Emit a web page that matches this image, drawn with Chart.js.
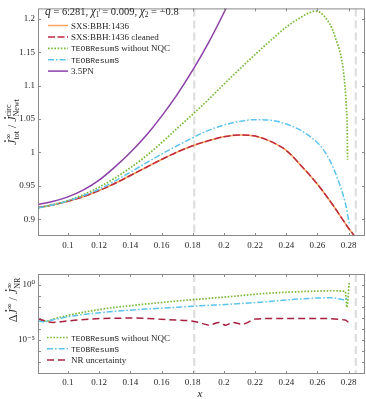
<!DOCTYPE html>
<html><head><meta charset="utf-8">
<script src="https://cdn.jsdelivr.net/npm/chart.js@4/dist/chart.umd.min.js"></script>
<style>
html,body{margin:0;padding:0;background:#fff;}
#wrap{position:relative;width:366px;height:399px;overflow:hidden;}
canvas{position:absolute;left:0;}
#top{top:0;width:366px;height:258px;}
#bot{top:258px;width:366px;height:141px;}
</style></head><body>
<div id="wrap"><canvas id="top" width="366" height="258"></canvas><canvas id="bot" width="366" height="141"></canvas></div>
<script>
// ---------- data ----------
const xTickValues = [0.1,0.12,0.14,0.16,0.18,0.2,0.22,0.24,0.26,0.28];
const xTickLabels = ['0.1','0.12','0.14','0.16','0.18','0.2','0.22','0.24','0.26','0.28'];
const topYTickValues = [0.9,0.95,1,1.05,1.1,1.15,1.2];
const topYTickLabels = ['0.9','0.95','1','1.05','1.1','1.15','1.2'];
const botYTickValues = [1e-8,1e-7,1e-6,1e-5,1e-4,1e-3,1e-2,1e-1,1];
const botYTickLabels = ['','','','10\u207B\u2075','','','','','10\u2070'];
const markerX = [0.181, 0.2846];

const sxsX = [0.0808,0.09,0.10,0.11,0.12,0.13,0.14,0.15,0.16,0.17,0.18,0.19,0.20,0.21,0.22,0.23,0.24,0.25,0.26,0.27,0.28,0.2838];
const sxsY = [0.9176,0.9215,0.927,0.934,0.943,0.9535,0.9655,0.9775,0.9895,1.0005,1.010,1.0175,1.0235,1.0262,1.0245,1.0165,1.003,0.979,0.9525,0.921,0.8865,0.875];
const cleanedX = [0.0808,0.09,0.10,0.11,0.12,0.13,0.14,0.15,0.16,0.17,0.18,0.19,0.20,0.21,0.22,0.23,0.24,0.25,0.26,0.27,0.28,0.2838];
const cleanedY = [0.9176,0.9215,0.927,0.934,0.943,0.9535,0.9655,0.9775,0.9895,1.0005,1.010,1.0175,1.0235,1.0262,1.0245,1.0165,1.003,0.979,0.9525,0.921,0.8865,0.875];
const nqcX = [0.0808,0.09,0.10,0.11,0.12,0.13,0.14,0.15,0.16,0.17,0.18,0.19,0.20,0.21,0.22,0.23,0.24,0.25,0.255,0.258,0.262,0.266,0.2693,0.272,0.2745,0.2765,0.2778,0.2786,0.2791,0.2793];
const nqcY = [0.9172,0.9215,0.928,0.937,0.948,0.9615,0.977,0.9945,1.0145,1.036,1.057,1.079,1.102,1.1245,1.1465,1.1675,1.1875,1.203,1.209,1.2114,1.209,1.199,1.186,1.168,1.15,1.125,1.095,1.065,1.035,0.989];
const teobX = [0.0808,0.09,0.10,0.11,0.12,0.13,0.14,0.15,0.16,0.17,0.18,0.19,0.20,0.21,0.22,0.23,0.24,0.25,0.26,0.265,0.27,0.275,0.278,0.2805];
const teobY = [0.917,0.9215,0.9275,0.9355,0.945,0.957,0.9705,0.984,0.9975,1.010,1.022,1.033,1.041,1.0465,1.049,1.048,1.0425,1.032,1.0145,1.0,0.978,0.947,0.923,0.893];
const pnX = [0.0808,0.09,0.10,0.11,0.12,0.13,0.14,0.15,0.16,0.17,0.18,0.19,0.20,0.205];
const pnY = [0.9222,0.9265,0.9335,0.944,0.9585,0.978,1.0,1.025,1.054,1.0865,1.123,1.1635,1.209,1.2335];

const errNqcX = [0.0808,0.0838,0.086,0.09,0.1009,0.11,0.122,0.1434,0.1646,0.1849,0.2055,0.2268,0.248,0.2693,0.2778,0.2789,0.2804];
const errNqcY = [0.000794,0.000537,0.000501,0.000708,0.00174,0.00316,0.00617,0.0141,0.0282,0.0501,0.0871,0.162,0.229,0.282,0.251,0.00871,1.58];
const errTeobX = [0.0808,0.0838,0.09,0.1009,0.122,0.1434,0.1646,0.1849,0.2055,0.2268,0.248,0.2693,0.2778,0.2794];
const errTeobY = [0.000501,0.000437,0.000631,0.00132,0.00302,0.00537,0.00813,0.0123,0.0174,0.0282,0.0501,0.0661,0.0437,0.1];
const nrX = [0.0808,0.0902,0.1009,0.122,0.1434,0.1646,0.1774,0.1838,0.1906,0.1968,0.2012,0.2055,0.2118,0.2204,0.2373,0.2587,0.2778,0.28];
const nrY = [0.000794,0.00038,0.000537,0.000871,0.000933,0.000661,0.000537,0.00038,0.000214,0.00038,0.000214,0.00038,0.000263,0.000759,0.000871,0.000871,0.000617,0.00038];

// ---------- helpers ----------
const SERIF = "'Liberation Serif', 'DejaVu Serif', serif";
const MONO = "'Liberation Mono', 'DejaVu Sans Mono', monospace";
const pts = (xs, ys) => xs.map((x, i) => ({x: x, y: ys[i]}));

function segWidth(ctx, s) {
  ctx.font = s.font;
  if (s.sup !== undefined || s.sub !== undefined) {
    return Math.max(ctx.measureText(s.sup || '').width, ctx.measureText(s.sub || '').width);
  }
  return ctx.measureText(s.t).width;
}
function drawRich(ctx, segs, x, y, align) {
  const total = segs.reduce((a, s) => a + segWidth(ctx, s), 0);
  let cx = align === 'center' ? x - total / 2 : x;
  ctx.textAlign = 'left';
  ctx.textBaseline = 'alphabetic';
  for (const s of segs) {
    const w = segWidth(ctx, s);
    ctx.font = s.font;
    if (s.sup !== undefined || s.sub !== undefined) {
      if (s.sup) ctx.fillText(s.sup, cx, y - (s.up || 4));
      if (s.sub) ctx.fillText(s.sub, cx, y + (s.down || 3));
    } else {
      ctx.fillText(s.t, cx, y + (s.dy || 0));
      if (s.dot) {
        ctx.beginPath();
        ctx.arc(cx + w * 0.72, y - s.dot, 0.9, 0, 2 * Math.PI);
        ctx.fill();
      }
    }
    cx += w;
  }
}

const framePlugin = {
  id: 'frame',
  beforeDatasetsDraw(chart) {
    const {ctx, chartArea: a, scales} = chart;
    ctx.save();
    ctx.beginPath(); ctx.rect(a.left, a.top, a.right - a.left, a.bottom - a.top); ctx.clip();
    ctx.strokeStyle = '#dedede'; ctx.lineWidth = 2.2; ctx.setLineDash([8, 4]);
    for (const v of markerX) {
      const p = scales.x.getPixelForValue(v);
      ctx.beginPath(); ctx.moveTo(p, a.top); ctx.lineTo(p, a.bottom); ctx.stroke();
    }
    ctx.restore();
  },
  afterDatasetsDraw(chart) {
    const {ctx, chartArea: a, scales} = chart;
    ctx.save();
    ctx.strokeStyle = '#8a8a8a'; ctx.lineWidth = 1;
    ctx.strokeRect(a.left + 0.5, a.top + 0.5, a.right - a.left - 1, a.bottom - a.top - 1);
    const L = 3;
    ctx.beginPath();
    for (const t of scales.x.ticks) {
      const p = Math.round(scales.x.getPixelForValue(t.value)) + 0.5;
      ctx.moveTo(p, a.bottom); ctx.lineTo(p, a.bottom - L);
      ctx.moveTo(p, a.top); ctx.lineTo(p, a.top + L);
    }
    for (const t of scales.y.ticks) {
      const p = Math.round(scales.y.getPixelForValue(t.value)) + 0.5;
      ctx.moveTo(a.left, p); ctx.lineTo(a.left + L, p);
      ctx.moveTo(a.right, p); ctx.lineTo(a.right - L, p);
    }
    ctx.stroke();
    ctx.restore();
  },
  afterDraw(chart, args, opts) {
    const ctx = chart.ctx;
    ctx.save();
    ctx.fillStyle = '#262626';
    if (opts.header) drawRich(ctx, opts.header, opts.hx, opts.hy, 'left');
    opts.order.forEach((di, k) => {
      const ds = chart.data.datasets[di];
      const y = opts.ly + k * opts.ldy;
      ctx.save();
      ctx.strokeStyle = ds.borderColor; ctx.lineWidth = ds.borderWidth;
      ctx.setLineDash(ds.borderDash || []);
      ctx.beginPath(); ctx.moveTo(opts.lx0, y); ctx.lineTo(opts.lx1, y); ctx.stroke();
      ctx.restore();
      const lab = ds.label;
      const segs = [];
      if (lab.startsWith('TEOBResumS')) {
        segs.push({t: 'TEOBResumS', font: '8px ' + MONO});
        if (lab.length > 10) segs.push({t: lab.slice(10), font: '9px ' + SERIF});
      } else segs.push({t: lab, font: '9px ' + SERIF});
      drawRich(ctx, segs, opts.tx, y + 3, 'left');
    });
    ctx.translate(opts.yx, opts.yy);
    ctx.rotate(-Math.PI / 2);
    drawRich(ctx, opts.ytitle, 0, 0, 'center');
    ctx.setTransform(1, 0, 0, 1, 0, 0);
    if (opts.xtitle) {
      ctx.font = 'italic 11px ' + SERIF;
      ctx.textAlign = 'center'; ctx.textBaseline = 'middle';
      ctx.fillText(opts.xtitle, opts.xtx, opts.xty);
    }
    ctx.restore();
  }
};

const tickFont = {family: SERIF, size: 9};
function xScale(height, pad) {
  return {
    type: 'linear', min: 0.0808, max: 0.2905,
    grid: {display: false, drawTicks: false}, border: {display: false},
    afterBuildTicks: s => { s.ticks = xTickValues.map(v => ({value: v})); },
    afterFit: s => { s.height = height; },
    ticks: {font: tickFont, color: '#262626', padding: pad, maxRotation: 0, autoSkip: false,
      callback: v => { const i = xTickValues.findIndex(t => Math.abs(t - v) < 1e-9); return i >= 0 ? xTickLabels[i] : ''; }}
  };
}

const colOrange = '#f7a55c', colRed = '#bf2a40', colGreen = '#79b936', colBlue = '#5cc3ef', colPurple = '#8c3fa8';
const italic12 = 'italic 12px ' + SERIF, small8 = '8px ' + SERIF;
const hItal = 'italic 11.5px ' + SERIF, hNum = '10.5px ' + SERIF, hSub = '7.5px ' + SERIF;

new Chart(document.getElementById('top'), {
  type: 'line',
  data: {datasets: [
    {label: 'SXS:BBH:1436', data: pts(sxsX, sxsY), borderColor: colOrange, borderWidth: 1.5, order: 5},
    {label: 'SXS:BBH:1436 cleaned', data: pts(cleanedX, cleanedY), borderColor: colRed, borderWidth: 1.5, borderDash: [7, 2.5], order: 4},
    {label: 'TEOBResumS without NQC', data: pts(nqcX, nqcY), borderColor: colGreen, borderWidth: 1.7, borderDash: [1.6, 1.6], order: 3},
    {label: 'TEOBResumS', data: pts(teobX, teobY), borderColor: colBlue, borderWidth: 1.5, borderDash: [6, 2, 1.6, 2], order: 2},
    {label: '3.5PN', data: pts(pnX, pnY), borderColor: colPurple, borderWidth: 1.5, order: 1}
  ]},
  options: {
    responsive: false, animation: false, devicePixelRatio: 1,
    layout: {padding: {top: 1, right: 1, left: 0, bottom: 0}},
    elements: {point: {radius: 0}, line: {cubicInterpolationMode: 'monotone', fill: false}},
    datasets: {line: {clip: 0}},
    scales: {
      x: xScale(22, 4),
      y: {type: 'linear', min: 0.875, max: 1.2155,
        grid: {display: false, drawTicks: false}, border: {display: false},
        afterBuildTicks: s => { s.ticks = topYTickValues.map(v => ({value: v})); },
        afterFit: s => { s.width = 38; },
        ticks: {font: tickFont, color: '#262626', padding: 3, autoSkip: false,
          callback: v => { const i = topYTickValues.findIndex(t => Math.abs(t - v) < 1e-9); return i >= 0 ? topYTickLabels[i] : ''; }}
      }
    },
    plugins: {
      legend: {display: false}, tooltip: {enabled: false},
      frame: {
        header: [
          {t: 'q', font: hItal}, {t: ' = 6.281, ', font: hNum},
          {t: '\u03C7', font: hItal}, {t: '1', font: hSub, dy: 2}, {t: ' = 0.009, ', font: hNum},
          {t: '\u03C7', font: hItal}, {t: '2', font: hSub, dy: 2}, {t: ' = \u22120.8', font: hNum}
        ],
        hx: 45, hy: 15,
        order: [0, 1, 2, 3, 4], lx0: 48, lx1: 68, tx: 71, ly: 25.5, ldy: 11.4,
        ytitle: [
          {t: 'J', font: italic12, dot: 11}, {sup: '\u221E', sub: 'tot', font: small8, up: 5, down: 3},
          {t: ' / ', font: '12px ' + SERIF},
          {t: 'J', font: italic12, dot: 11}, {sup: 'circ', sub: 'Newt', font: small8, up: 5, down: 3}
        ],
        yx: 16, yy: 122
      }
    }
  },
  plugins: [framePlugin]
});

new Chart(document.getElementById('bot'), {
  type: 'line',
  data: {datasets: [
    {label: 'TEOBResumS without NQC', data: pts(errNqcX, errNqcY), borderColor: colGreen, borderWidth: 1.7, borderDash: [1.6, 1.6], order: 3},
    {label: 'TEOBResumS', data: pts(errTeobX, errTeobY), borderColor: colBlue, borderWidth: 1.5, borderDash: [6, 2, 1.6, 2], order: 2},
    {label: 'NR uncertainty', data: pts(nrX, nrY), borderColor: '#a8203f', borderWidth: 1.5, borderDash: [7, 4], order: 1}
  ]},
  options: {
    responsive: false, animation: false, devicePixelRatio: 1,
    layout: {padding: {top: 16, right: 1, left: 0, bottom: 0}},
    elements: {point: {radius: 0}, line: {cubicInterpolationMode: 'monotone', fill: false}},
    datasets: {line: {clip: 0}},
    scales: {
      x: xScale(25, 3),
      y: {type: 'logarithmic', min: 7.94e-9, max: 9.33,
        grid: {display: false, drawTicks: false}, border: {display: false},
        afterBuildTicks: s => { s.ticks = botYTickValues.map(v => ({value: v})); },
        afterFit: s => { s.width = 38; },
        ticks: {font: tickFont, color: '#262626', padding: 3, autoSkip: false,
          callback: v => { const i = botYTickValues.findIndex(t => Math.abs(Math.log10(t) - Math.log10(v)) < 1e-6); return i >= 0 ? botYTickLabels[i] : ''; }}
      }
    },
    plugins: {
      legend: {display: false}, tooltip: {enabled: false},
      frame: {
        order: [0, 1, 2], lx0: 47, lx1: 68, tx: 71, ly: 79.5, ldy: 11.3,
        ytitle: [
          {t: '\u0394', font: '12px ' + SERIF},
          {t: 'J', font: italic12, dot: 11}, {sup: '\u221E', font: small8, up: 5},
          {t: ' / ', font: '12px ' + SERIF},
          {t: 'J', font: italic12, dot: 11}, {sup: '\u221E', sub: 'NR', font: small8, up: 5, down: 3}
        ],
        yx: 17, yy: 42,
        xtitle: 'x', xtx: 200, xty: 136
      }
    }
  },
  plugins: [framePlugin]
});
</script>
</body></html>
